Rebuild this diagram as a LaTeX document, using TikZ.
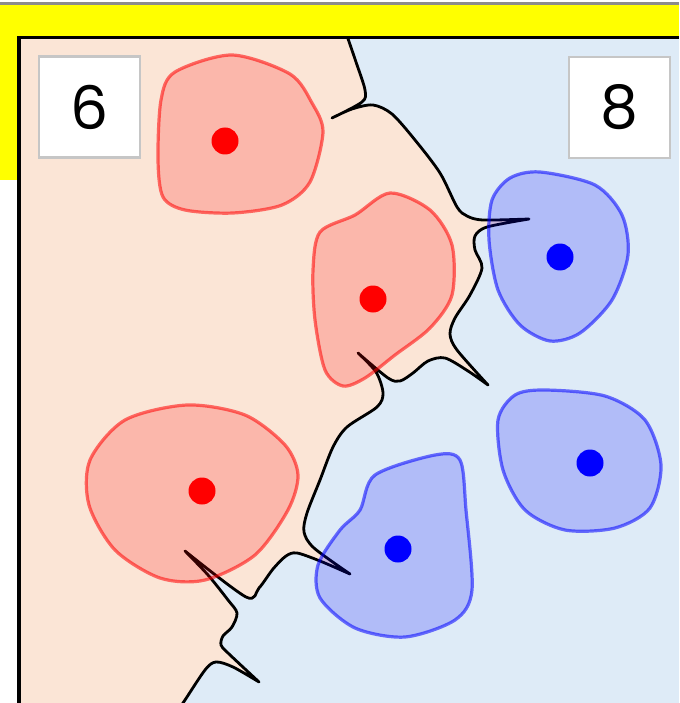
\documentclass[tikz,border=0pt]{standalone}
\usepackage{fontspec}
\setmainfont{DejaVu Sans}
\newfontfamily\digitfont{Poppins}
\usetikzlibrary{positioning}

\definecolor{peach}{HTML}{FBE5D6}
\definecolor{paleblue}{HTML}{DEEBF7}
\definecolor{banner}{HTML}{FFFF00}
\definecolor{rule}{HTML}{8C8C8C}

% the wavy wall between the two regions, top to bottom
\newcommand{\wallpath}{%
  plot[smooth] coordinates {(345,30) (356,62) (365,90) (362,102) (332,118)}
  -- plot[smooth] coordinates {(332,118) (352,109) (373,105) (392,114) (415,140) (440,173) (457,207) (467,216) (483,220) (529,219)}
  -- plot[smooth] coordinates {(529,219) (487,227) (475,236) (475,250) (482,268) (470,295) (455,318) (450,334) (457,350) (488,385)}
  -- plot[smooth] coordinates {(488,385) (468,371) (445,358) (428,361) (413,373) (400,381) (388,378) (358,353)}
  -- plot[smooth] coordinates {(358,353) (376,372) (383,393) (377,407) (347,427) (333,447) (320,480) (307,513) (304,532) (314,548) (350,574)}
  -- plot[smooth] coordinates {(350,574) (320,561) (297,553) (286,556) (273,569) (259,588) (246,597) (185,551)}
  -- plot[smooth] coordinates {(185,551) (208,575) (228,600) (237,613) (232,627) (223,636) (221,645) (228,653) (259,682)}
  -- plot[smooth] coordinates {(259,682) (233,667) (216,662) (205,670) (183,703) (176,712)}}

\begin{document}
\begin{tikzpicture}[x=1pt, y=-1pt,
  wall/.style={line width=2.8pt, line join=round},
  redcell/.style={draw=red, draw opacity=0.55, fill=red, fill opacity=0.2, line width=3.2pt},
  bluecell/.style={draw=blue, draw opacity=0.55, fill=blue, fill opacity=0.2, line width=3.2pt},
  nucleus/.style={circle, inner sep=0pt, minimum size=27pt},
  numbox/.style={draw=gray!45, line width=2.8pt, fill=white, minimum size=101pt,
                 inner sep=0pt, font=\digitfont\fontsize{60}{60}\selectfont}
]
\useasboundingbox (0,0) rectangle (679,703);

% banner and frame
\fill[rule] (0,2) rectangle (679,5);
\fill[banner] (0,5) rectangle (679,36);
\fill[banner] (0,5) rectangle (18,180);

\begin{scope}
  \clip (19,37) rectangle (679,703);
  \fill[paleblue] (19,37) rectangle (679,703);
  \fill[peach] \wallpath -- (19,712) -- (19,30) -- cycle;
  \draw[wall] \wallpath;

  % cells
  \path[redcell] plot[smooth cycle] coordinates {(232,55) (290,74) (312,103) (323,132) (310,182) (282,205) (233,213) (185,210) (163,197) (158,160) (161,100) (175,72)};
  \path[redcell] plot[smooth cycle] coordinates {(390,193) (430,210) (452,245) (452,295) (430,328) (395,355) (365,378) (343,386) (325,370) (315,320) (313,270) (320,232) (355,215)};
  \path[redcell] plot[smooth cycle] coordinates {(187,405) (245,415) (285,445) (298,475) (288,510) (255,555) (205,580) (160,578) (115,550) (89,505) (90,460) (125,420)};
  \path[bluecell] plot[smooth cycle] coordinates {(540,172) (595,185) (622,215) (628,255) (612,300) (580,333) (550,341) (520,325) (498,290) (489,240) (492,200) (510,178)};
  \path[bluecell] plot[smooth cycle] coordinates {(545,390) (605,396) (645,420) (661,465) (650,508) (615,528) (565,530) (525,510) (503,470) (498,420) (515,395)};
  \path[bluecell] plot[smooth cycle] coordinates {(435,455) (460,460) (466,510) (472,590) (455,620) (405,637) (355,628) (320,598) (318,565) (340,530) (360,510) (375,475)};

  \node[nucleus, fill=red] (red1) at (225,141) {};
  \node[nucleus, fill=red] (red2) at (373,299) {};
  \node[nucleus, fill=red] (red3) at (202,491) {};
  \node[nucleus, fill=blue] (blue1) at (560,257) {};
  \node[nucleus, fill=blue] (blue2) at (590,463) {};
  \node[nucleus, fill=blue] (blue3) at (398,549) {};
\end{scope}

\draw[line width=3.4pt] (19,703) -- (19,37.5) -- (679,37.5);

% labels
\node[numbox] (six) at (89.5,107) {6};
\node[numbox] (eight) at (619.5,107.5) {8};
\end{tikzpicture}
\end{document}
